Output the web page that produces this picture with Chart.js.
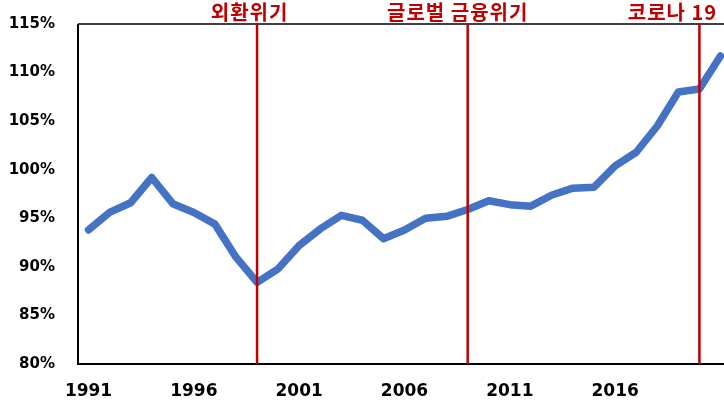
<!DOCTYPE html>
<html>
<head>
<meta charset="utf-8">
<script src="https://cdn.jsdelivr.net/npm/chart.js@4.4.1/dist/chart.umd.min.js"></script>
<style>
  html, body { margin: 0; padding: 0; background: #fff; }
  #wrap { width: 724px; height: 403px; overflow: hidden; position: relative; }
  canvas { display: block; }
</style>
</head>
<body>
<div id="wrap"><canvas id="chart" width="731" height="403"></canvas></div>
<script>
// years on the x axis
var years = [1991, 1992, 1993, 1994, 1995, 1996, 1997, 1998, 1999, 2000,
             2001, 2002, 2003, 2004, 2005, 2006, 2007, 2008, 2009, 2010,
             2011, 2012, 2013, 2014, 2015, 2016, 2017, 2018, 2019, 2020, 2021];
// ratio, %
var ratio = [93.8, 95.6, 96.6, 99.2, 96.5, 95.6, 94.4, 91.0, 88.4, 89.8,
             92.2, 93.9, 95.3, 94.8, 92.9, 93.8, 95.0, 95.2, 95.9, 96.8,
             96.4, 96.25, 97.4, 98.1, 98.2, 100.4, 101.8, 104.5, 108.0, 108.3, 111.7];
// labelled years on the x axis
var tickYears = [1991, 1996, 2001, 2006, 2011, 2016];
// crisis markers
var crisisYears = [1999, 2009, 2020];
var crisisNames = ['외환위기', '글로벌 금융위기', '코로나 19'];
var crisisTextShift = [-7.5, -10, -27];

var red = '#C00000';

var crisisPlugin = {
    id: 'crisis',
    beforeDatasetsDraw: function(chart) {
        var a = chart.chartArea, ctx = chart.ctx;
        ctx.save();
        ctx.strokeStyle = '#000';
        ctx.lineWidth = 1.5;
        ctx.beginPath();
        ctx.moveTo(a.left, a.top);
        ctx.lineTo(a.right + 5, a.top);
        ctx.stroke();
        ctx.lineWidth = 2;
        ctx.beginPath();
        ctx.moveTo(a.left, a.top);
        ctx.lineTo(a.left, a.bottom);
        ctx.lineTo(a.right + 5, a.bottom);
        ctx.stroke();
        ctx.restore();
    },
    afterDatasetsDraw: function(chart) {
        var a = chart.chartArea, ctx = chart.ctx, x = chart.scales.x;
        ctx.save();
        ctx.strokeStyle = red;
        ctx.lineWidth = 2.5;
        ctx.fillStyle = red;
        ctx.font = 'bold 20px "Noto Sans CJK KR"';
        ctx.letterSpacing = '1px';
        ctx.textAlign = 'center';
        ctx.textBaseline = 'middle';
        crisisYears.forEach(function(y, i) {
            var px = x.getPixelForValue(years.indexOf(y));
            ctx.beginPath();
            ctx.moveTo(px, a.top);
            ctx.lineTo(px, a.bottom);
            ctx.stroke();
            ctx.fillText(crisisNames[i], px + crisisTextShift[i], 12);
        });
        ctx.restore();
    }
};

new Chart(document.getElementById('chart'), {
    type: 'line',
    data: {
        labels: years,
        datasets: [{
            data: ratio,
            borderColor: '#4472C4',
            borderWidth: 7.5,
            pointRadius: 0,
            tension: 0,
            borderCapStyle: 'round',
            borderJoinStyle: 'round'
        }]
    },
    options: {
        responsive: false,
        animation: false,
        layout: { padding: { top: 24, right: 0, left: 0, bottom: 0 } },
        plugins: { legend: { display: false }, tooltip: { enabled: false } },
        scales: {
            x: {
                offset: true,
                grid: { display: false, drawTicks: false },
                border: { display: false },
                afterFit: function(s) {
                    s.height = 39;
                    s.paddingLeft = 0;
                    s.paddingRight = 0;
                },
                ticks: {
                    autoSkip: false,
                    maxRotation: 0,
                    padding: 17,
                    color: '#000',
                    font: { family: 'DejaVu Sans', weight: 'bold', size: 17 },
                    callback: function(v, i) {
                        return tickYears.indexOf(years[i]) >= 0 ? String(years[i]) : '';
                    }
                }
            },
            y: {
                min: 80,
                max: 115,
                grid: { display: false, drawTicks: false },
                border: { display: false },
                afterFit: function(s) {
                    s.width = 78;
                    s.paddingTop = 0;
                    s.paddingBottom = 0;
                },
                ticks: {
                    stepSize: 5,
                    padding: 23,
                    color: '#000',
                    font: { family: 'DejaVu Sans', weight: 'bold', size: 15 },
                    callback: function(v) { return v + '%'; }
                }
            }
        }
    },
    plugins: [crisisPlugin]
});
</script>
</body>
</html>
